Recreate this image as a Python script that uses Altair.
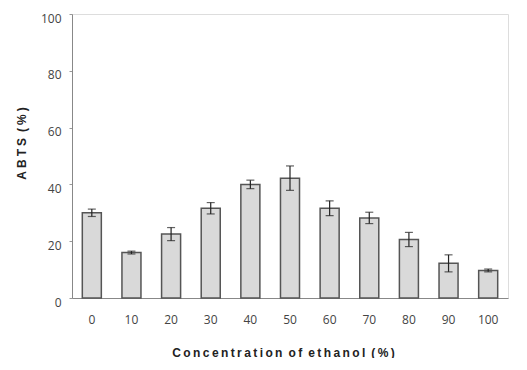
import altair as alt
import pandas as pd

conc = ["0", "10", "20", "30", "40", "50", "60", "70", "80", "90", "100"]
abts = [30.0, 16.0, 22.5, 31.6, 40.0, 42.2, 31.6, 28.2, 20.6, 12.2, 9.7]
err = [1.3, 0.5, 2.3, 2.0, 1.5, 4.3, 2.6, 2.0, 2.5, 3.0, 0.5]

df = pd.DataFrame({"conc": conc, "abts": abts, "err": err})
df["lo"] = df["abts"] - df["err"]
df["hi"] = df["abts"] + df["err"]

def spaced(s, sep):
    return sep.join(list(s))

xs = "\u2009"
x_title = (spaced("Concentration", xs) + "\u2002" + spaced("of", xs) + "\u2002"
           + spaced("ethanol", xs) + "\u2002" + spaced("(%)", xs))
y_title = spaced("ABTS", "\u2005") + "\u2002" + spaced("(%)", "\u2005")

FONT = "Liberation Sans Narrow, Liberation Sans"

x = alt.X("conc:N", sort=conc,
          scale=alt.Scale(paddingInner=0.52, paddingOuter=0.26),
          axis=alt.Axis(title=x_title, labelAngle=0, ticks=False, domain=True,
                        domainColor="#888", labelPadding=16, labelFontSize=12,
                        labelColor="#444", labelFont="Open Sans",
                        titleFont=FONT, titleFontSize=12, titleFontWeight="bold",
                        titleColor="#222", titlePadding=22, titleX=211))
y_scale = alt.Scale(domain=[0, 100])

bars = alt.Chart(df).mark_bar(color="#d9d9d9", stroke="#555", strokeWidth=1.5).encode(
    x=x,
    y=alt.Y("abts:Q", scale=y_scale,
            axis=alt.Axis(values=[0, 20, 40, 60, 80, 100], grid=False, tickSize=3,
                          tickColor="#999", domainColor="#888", labelPadding=8,
                          labelOffset=4,
                          labelFontSize=12, labelColor="#444", labelFont="Open Sans",
                          title=y_title, titleFont=FONT, titleFontSize=12,
                          titleFontWeight="bold", titleColor="#222",
                          titleX=-44, titleY=129)),
)

rules = alt.Chart(df).mark_rule(color="#222", strokeWidth=1.2).encode(
    x=alt.X("conc:N", sort=conc), y=alt.Y("lo:Q", scale=y_scale), y2="hi:Q")
ticks_hi = alt.Chart(df).mark_tick(color="#222", size=8, thickness=1.2, orient="horizontal").encode(
    x=alt.X("conc:N", sort=conc), y=alt.Y("hi:Q", scale=y_scale))
ticks_lo = alt.Chart(df).mark_tick(color="#222", size=8, thickness=1.2, orient="horizontal").encode(
    x=alt.X("conc:N", sort=conc), y=alt.Y("lo:Q", scale=y_scale))

chart = alt.layer(bars, rules, ticks_hi, ticks_lo).properties(
    width=436, height=284,
    autosize=alt.AutoSizeParams(type="none"),
    padding={"left": 64, "top": 6, "right": 11, "bottom": 60},
).configure_view(stroke="#888", strokeWidth=1).configure(background="white")

chart.save("out.html", embed_options={"renderer": "svg", "actions": False})
